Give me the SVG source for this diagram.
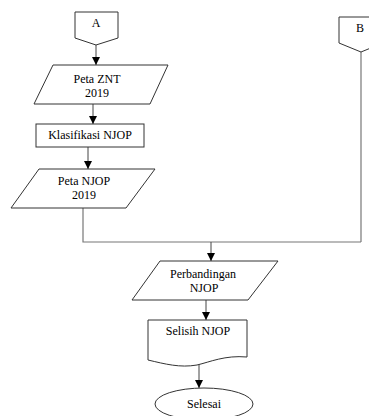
<svg xmlns="http://www.w3.org/2000/svg" width="369" height="416" viewBox="0 0 369 416">
<style>
.s{fill:#fff;stroke:#333;stroke-width:1}
.t{font-family:"Liberation Serif","Times New Roman","DejaVu Serif",serif;font-size:12px;fill:#000;text-anchor:middle}
.c{fill:none;stroke:#444;stroke-width:1}
.g{fill:none;stroke:#777;stroke-width:1.2}
</style>
<defs>
<marker id="ah" viewBox="0 0 8 8" refX="8" refY="4" markerWidth="8" markerHeight="8" markerUnits="userSpaceOnUse" orient="auto">
<path d="M0,0 L8,4 L0,8 Z" fill="#000"/>
</marker>
</defs>
<rect width="369" height="416" fill="#fff"/>
<g id="connectors">
<line class="c" x1="96" y1="45" x2="96" y2="65" marker-end="url(#ah)"/>
<line class="c" x1="93" y1="104" x2="93" y2="124" marker-end="url(#ah)"/>
<line class="c" x1="88" y1="147" x2="88" y2="169" marker-end="url(#ah)"/>
<polyline class="g" points="83,208 83,242 361,242"/>
<line class="g" x1="361" y1="52" x2="361" y2="242"/>
<line class="c" x1="211" y1="242" x2="211" y2="261" marker-end="url(#ah)"/>
<line class="c" x1="206" y1="300" x2="206" y2="320" marker-end="url(#ah)"/>
<line class="c" x1="199" y1="364" x2="199" y2="388" marker-end="url(#ah)"/>
</g>
<g id="A">
<polygon class="s" points="75,12 118,12 118,38 96,45 75,38"/>
<text class="t" x="96" y="27" font-size="11">A</text>
</g>
<g id="B">
<polygon class="s" points="339,17 383,17 383,43 361,52 339,43"/>
<text class="t" x="360" y="32" font-size="11">B</text>
</g>
<g id="petaZNT">
<polygon class="s" points="53,65 168,65 150,104 34,104"/>
<text class="t" x="97" y="83">Peta ZNT</text>
<text class="t" x="97" y="97">2019</text>
</g>
<g id="klasifikasi">
<rect class="s" x="36" y="124" width="108" height="23"/>
<text class="t" x="90" y="139">Klasifikasi NJOP</text>
</g>
<g id="petaNJOP">
<polygon class="s" points="39,169 155,169 126,208 11,208"/>
<text class="t" x="84" y="185">Peta NJOP</text>
<text class="t" x="84" y="199">2019</text>
</g>
<g id="perbandingan">
<polygon class="s" points="160,261 278,261 248,300 132,300"/>
<text class="t" x="203" y="278">Perbandingan</text>
<text class="t" x="204" y="292">NJOP</text>
</g>
<g id="selisih">
<path class="s" d="M148,320 L247,320 L247,357 C225,355 210,362 197,365 C180,368 165,364 148,360 Z"/>
<text class="t" x="198" y="335">Selisih NJOP</text>
</g>
<g id="selesai">
<ellipse class="s" cx="204" cy="404" rx="49" ry="16"/>
<text class="t" x="204" y="408">Selesai</text>
</g>
</svg>
